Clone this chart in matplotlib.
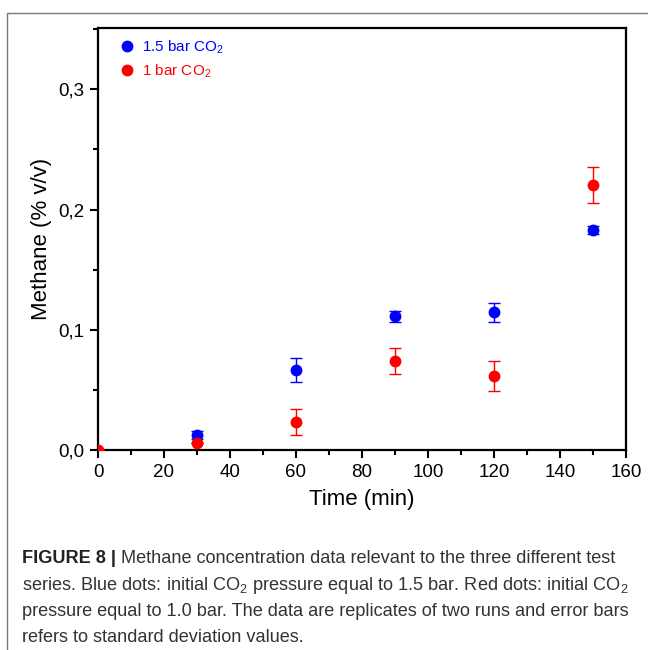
import matplotlib
matplotlib.use('Agg')
import matplotlib.pyplot as plt
from matplotlib.patches import Rectangle
from matplotlib.lines import Line2D
from matplotlib.text import Annotation
from matplotlib.ticker import MultipleLocator, FuncFormatter

plt.rcParams['font.family'] = ['Liberation Sans', 'DejaVu Sans']
plt.rcParams['mathtext.fontset'] = 'custom'
plt.rcParams['mathtext.rm'] = 'Liberation Sans'

# Data
time_blue = [30, 60, 90, 120, 150]
ch4_blue = [0.0127, 0.0665, 0.1113, 0.1145, 0.183]
err_blue = [0.0032, 0.0100, 0.0045, 0.0078, 0.0035]

time_red = [0, 30, 60, 90, 120, 150]
ch4_red = [0.0, 0.0062, 0.0232, 0.0740, 0.0615, 0.2205]
err_red = [0.0, 0.0, 0.0105, 0.0110, 0.0125, 0.0150]

series_labels = ['1.5 bar CO$_2$', '1 bar CO$_2$']
series_colors = ['#0000ff', '#ff0000']

fig = plt.figure(figsize=(6.48, 6.5), dpi=100)
ax = fig.add_axes([98 / 648, 1 - 450 / 650, 528 / 648, 422 / 650])

# outer frame of the figure panel (cropped on the right and bottom)
fig.patches.append(Rectangle((7 / 648, -0.05), 1.0, 1.05 - 12.7 / 650,
                             transform=fig.transFigure, fill=False,
                             edgecolor='#7a7a7a', linewidth=1.0))

ax.errorbar(time_blue, ch4_blue, yerr=err_blue, fmt='o', color=series_colors[0],
            markersize=7.5, capsize=4, elinewidth=1, capthick=1, zorder=3)
ax.errorbar(time_red, ch4_red, yerr=err_red, fmt='o', color=series_colors[1],
            markersize=7.5, capsize=4, elinewidth=1, capthick=1, zorder=4)

ax.set_xlim(0, 160)
ax.set_ylim(0, 0.351)
ax.xaxis.set_major_locator(MultipleLocator(20))
ax.xaxis.set_minor_locator(MultipleLocator(10))
ax.yaxis.set_major_locator(MultipleLocator(0.1))
ax.yaxis.set_minor_locator(MultipleLocator(0.05))
ax.yaxis.set_major_formatter(FuncFormatter(lambda v, p: f'{v:.1f}'.replace('.', ',')))
ax.tick_params(which='major', direction='out', length=6, width=1.5, labelsize=13.5, pad=4)
ax.tick_params(which='minor', direction='out', length=3.5, width=1.5)
for s in ax.spines.values():
    s.set_linewidth(1.6)

ax.set_xlabel('Time (min)', fontsize=16, labelpad=6)
ax.set_ylabel('Methane (% v/v)', fontsize=16, labelpad=4)

# legend: dots only, coloured text
handles = [Line2D([], [], marker='o', linestyle='none', color=c, markersize=7.5)
           for c in series_colors]
leg = ax.legend(handles, series_labels, loc='upper left', frameon=False, fontsize=11,
                handletextpad=0.4, handlelength=1.2, borderaxespad=0.0,
                labelspacing=0.45, borderpad=0.0,
                bbox_to_anchor=(20 / 528, 1 - 10 / 422))
for txt, col in zip(leg.get_texts(), series_colors):
    txt.set_color(col)

# caption
cap_lines = [
    ' Methane concentration data relevant to the three different test',
    'series. Blue dots: initial CO$_2$ pressure equal to 1.5 bar. Red dots: initial CO$_2$',
    'pressure equal to 1.0 bar. The data are replicates of two runs and error bars',
    'refers to standard deviation values.',
]
cap_size = 13.1
x0 = 22 / 648
ys = [563, 589.5, 616, 642.5]
t1 = fig.text(x0, 1 - ys[0] / 650, 'FIGURE 8 |', fontsize=cap_size, fontweight='bold',
              color='#222222', va='baseline')
fig.add_artist(Annotation(cap_lines[0], xy=(1, 0), xycoords=t1,
                          va='bottom', fontsize=cap_size, color='#333333'))
for line, y in zip(cap_lines[1:], ys[1:]):
    fig.text(x0, 1 - y / 650, line, fontsize=cap_size, color='#333333', va='baseline')

fig.savefig('out.png', dpi=100)
